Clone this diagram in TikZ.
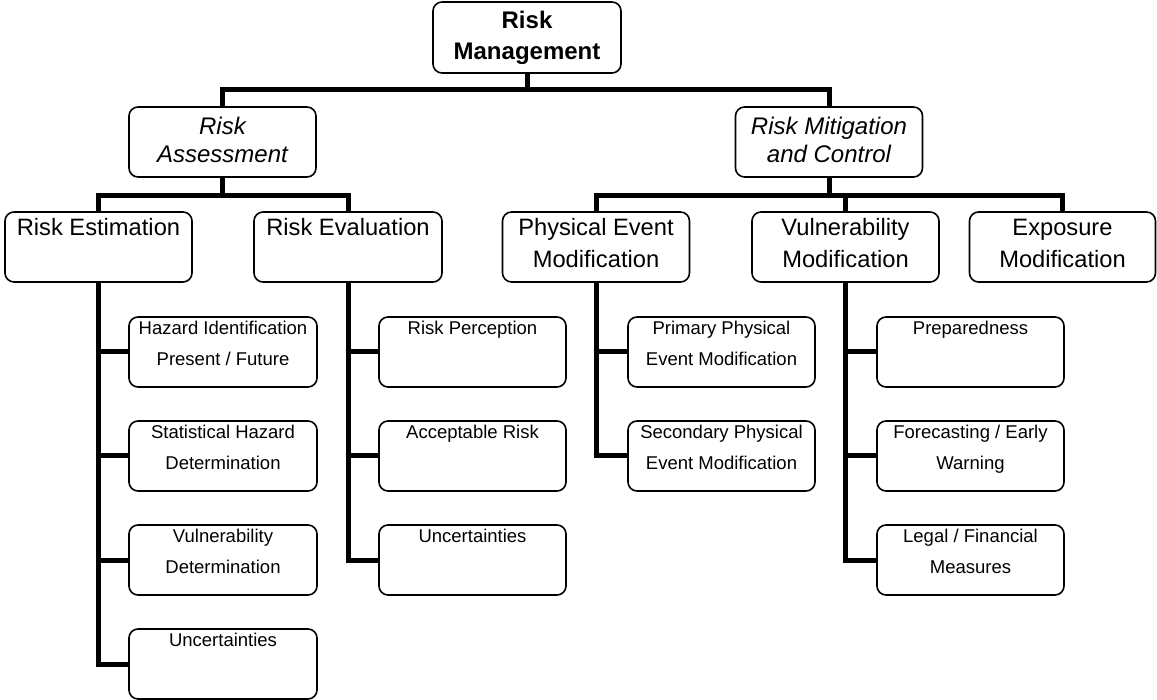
\documentclass[tikz,border=0pt]{standalone}
\usepackage{fontspec}
\setmainfont{Liberation Sans}
\usetikzlibrary{calc}
\begin{document}
\begin{tikzpicture}[x=1pt,y=-1pt,
  box/.style={draw=black, line width=1.6pt, rounded corners=9pt, fill=white,
    inner sep=0pt, align=center, minimum height=70pt},
  rootbox/.style={box, minimum width=188pt, minimum height=71pt,
    font=\fontsize{24}{31}\selectfont\bfseries,
    execute at begin node={\rule{0pt}{22pt}},
    execute at end node={\rule[-4pt]{0pt}{4pt}}},
  ibox/.style={box, minimum width=187pt,
    font=\fontsize{24}{28}\selectfont\itshape,
    execute at begin node={\rule{0pt}{22pt}},
    execute at end node={\rule[-4pt]{0pt}{4pt}}},
  midbox/.style={box, minimum width=187pt,
    font=\fontsize{23.7}{32}\selectfont,
    execute at begin node={\rule{0pt}{22pt}},
    execute at end node={\rule[-8pt]{0pt}{8pt}}},
  smallbox/.style={box, minimum width=188pt,
    font=\fontsize{18.5}{31}\selectfont,
    execute at begin node={\rule{0pt}{20pt}},
    execute at end node={\rule[-17pt]{0pt}{17pt}}},
  bar/.style={draw=black, line width=5pt, line join=miter}]
\useasboundingbox (0,0) rectangle (1157,700);

% top levels
\node[rootbox] (root) at (527,37.5) {Risk\\Management};
\node[ibox] (RA) at (222.5,142) {Risk\\Assessment};
\node[ibox] (RMC) at (829,142) {Risk Mitigation\\and Control};

% third level
\node[midbox] (RE) at (98.5,247) {Risk Estimation\\\mbox{}};
\node[midbox, minimum width=188pt] (REv) at (348,247) {Risk Evaluation\\\mbox{}};
\node[midbox] (PE) at (596,247) {Physical Event\\Modification};
\node[midbox] (VM) at (845.5,247) {Vulnerability\\Modification};
\node[midbox, minimum width=186pt] (EM) at (1062.5,247) {Exposure\\Modification};

% leaf boxes: Risk Estimation
\node[smallbox] (H1) at (223,352) {Hazard Identification\\Present / Future};
\node[smallbox] (H2) at (223,456) {Statistical Hazard\\Determination};
\node[smallbox] (H3) at (223,560) {Vulnerability\\Determination};
\node[smallbox] (H4) at (223,664) {Uncertainties\\\mbox{}};

% leaf boxes: Risk Evaluation
\node[smallbox, minimum width=187pt] (E1) at (472.5,352) {Risk Perception\\\mbox{}};
\node[smallbox, minimum width=187pt] (E2) at (472.5,456) {Acceptable Risk\\\mbox{}};
\node[smallbox, minimum width=187pt] (E3) at (472.5,560) {Uncertainties\\\mbox{}};

% leaf boxes: Physical Event Modification
\node[smallbox, minimum width=187pt] (P1) at (721.5,352) {Primary Physical\\Event Modification};
\node[smallbox, minimum width=187pt] (P2) at (721.5,456) {Secondary Physical\\Event Modification};

% leaf boxes: Vulnerability Modification
\node[smallbox, minimum width=187pt] (V1) at (970.5,352) {Preparedness\\\mbox{}};
\node[smallbox, minimum width=187pt] (V2) at (970.5,456) {Forecasting / Early\\Warning};
\node[smallbox, minimum width=187pt] (V3) at (970.5,560) {Legal / Financial\\Measures};

% junction points
\coordinate (b1) at (root.south |- 0,90);
\coordinate (b2) at (RA.south |- 0,196);
\coordinate (b3) at (RMC.south |- 0,196);

% connectors
\draw[bar] (root.south) -- (b1);
\draw[bar] (RA.north) |- (b1) -| (RMC.north);

\draw[bar] (RA.south) -- (b2);
\draw[bar] (RE.north) |- (b2) -| (REv.north);

\draw[bar] (RMC.south) -- (b3);
\draw[bar] (PE.north) |- (b3) -| (EM.north);
\draw[bar] (VM.north) -- (VM.north |- b3);

\draw[bar] (RE.south) |- (H4.west);
\draw[bar] (H1.west) -- (H1.west -| RE.south);
\draw[bar] (H2.west) -- (H2.west -| RE.south);
\draw[bar] (H3.west) -- (H3.west -| RE.south);

\draw[bar] (REv.south) |- (E3.west);
\draw[bar] (E1.west) -- (E1.west -| REv.south);
\draw[bar] (E2.west) -- (E2.west -| REv.south);

\draw[bar] (PE.south) |- (P2.west);
\draw[bar] (P1.west) -- (P1.west -| PE.south);

\draw[bar] (VM.south) |- (V3.west);
\draw[bar] (V1.west) -- (V1.west -| VM.south);
\draw[bar] (V2.west) -- (V2.west -| VM.south);
\end{tikzpicture}
\end{document}
